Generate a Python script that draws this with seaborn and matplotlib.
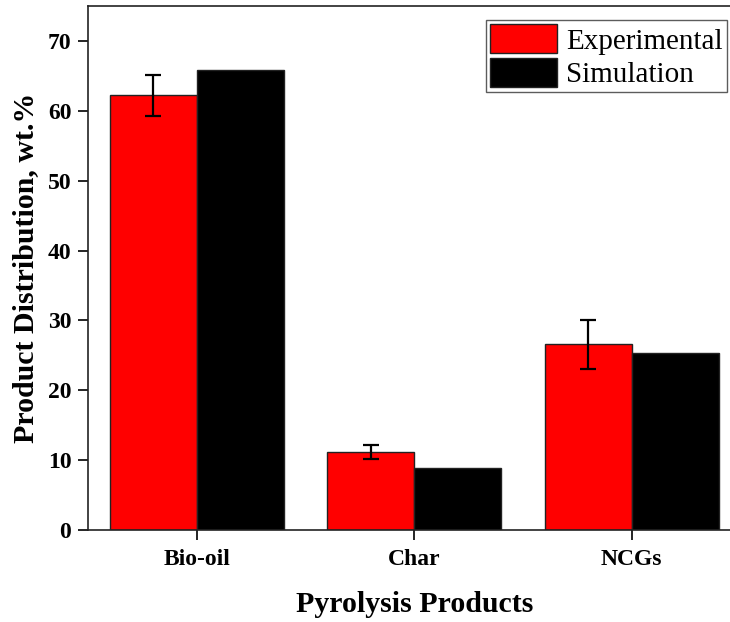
import matplotlib
matplotlib.use("Agg")
import matplotlib.pyplot as plt
import seaborn as sns
import pandas as pd
import numpy as np

products = ["Bio-oil", "Char", "NCGs"]
experimental = [62.2, 11.1, 26.6]
experimental_err = [2.9, 1.0, 3.5]
simulation = [65.8, 8.9, 25.3]
series = ["Experimental", "Simulation"]
colors = ["#ff0000", "#000000"]

df = pd.DataFrame({
    "Product": products * 2,
    "Source": [series[0]] * 3 + [series[1]] * 3,
    "Value": experimental + simulation,
})

sns.set_theme(style="ticks")
plt.rcParams["font.family"] = ["Liberation Serif", "DejaVu Serif"]
plt.rcParams["text.color"] = "black"
plt.rcParams["axes.labelcolor"] = "black"

fig = plt.figure(figsize=(7.3, 6.22), dpi=100)
ax = fig.add_axes([88 / 730, 92 / 622, 652.5 / 730, 524 / 622])

sns.barplot(data=df, x="Product", y="Value", hue="Source", order=products,
            hue_order=series, palette=colors, width=0.8, errorbar=None,
            edgecolor="#222222", linewidth=1.0, ax=ax, saturation=1)

# error bars on the experimental bars
exp_patches = ax.patches[:3]
xs = [p.get_x() + p.get_width() / 2 for p in exp_patches]
ax.errorbar(xs, experimental, yerr=experimental_err, fmt="none",
            ecolor="black", elinewidth=1.6, capsize=6, capthick=1.6, zorder=5)

ax.set_xlim(-0.5, 2.5)
ax.set_ylim(0, 75)
ax.set_yticks(np.arange(0, 71, 10))
ax.tick_params(axis="both", direction="out", length=7, width=1.2,
               labelsize=17, colors="black", pad=5)
ax.tick_params(axis="x", pad=7)
for lab in ax.get_xticklabels() + ax.get_yticklabels():
    lab.set_fontweight("bold")
for s in ax.spines.values():
    s.set_linewidth(1.2)
    s.set_color("#222222")

ax.set_xlabel("Pyrolysis Products", fontsize=21.5, fontweight="bold", labelpad=15)
ax.set_ylabel("Product Distribution, wt.%", fontsize=21.5, fontweight="bold", labelpad=6)

leg = ax.legend(loc="upper right", bbox_to_anchor=(727 / 730, 1 - 20 / 622),
                bbox_transform=fig.transFigure, borderaxespad=0,
                fontsize=21, frameon=True, fancybox=False, edgecolor="#333333",
                handlelength=2.3, handleheight=1.15, labelspacing=0.1,
                handletextpad=0.3, borderpad=0.15, title=None)
leg.get_frame().set_linewidth(1.0)

fig.savefig("out.png", dpi=100)
